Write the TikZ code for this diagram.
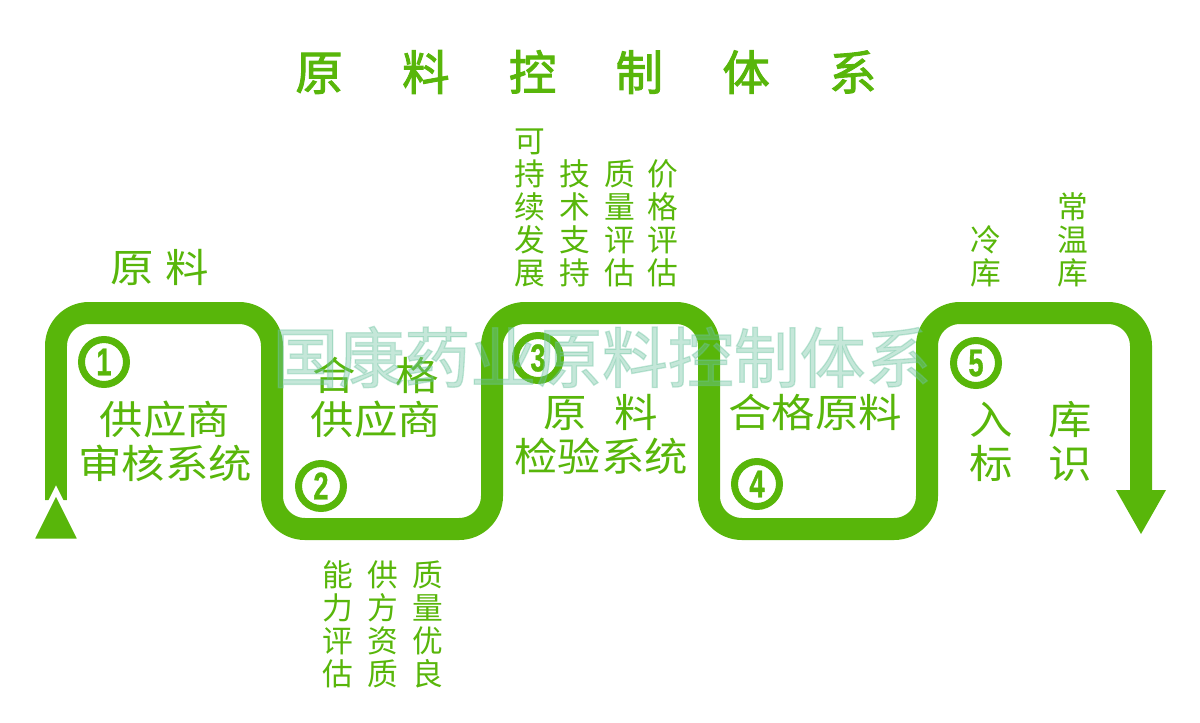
\documentclass[tikz,border=0pt]{standalone}
\usepackage{fontspec}
\newfontfamily\cjk{Noto Sans CJK SC}
\newfontfamily\cjkwide[FakeStretch=1.1]{Noto Sans CJK SC}
\newfontfamily\cjkbold[FakeBold=2]{Noto Sans CJK SC}
\newfontfamily\numfont[FakeStretch=0.7,FakeBold=1]{Liberation Sans}
\definecolor{leaf}{RGB}{88,182,10}
\definecolor{mark}{RGB}{110,195,160}
\begin{document}
\begin{tikzpicture}[x = 0.02cm,
                    y = -0.02cm,
                    color = leaf]
% styles of texts
\tikzset{boxtext/.style={font=\cjkwide\fontsize{22.5}{25}\selectfont,align=center,inner sep=0pt,text=leaf},
         coltext/.style={font=\cjk\fontsize{17.5}{18.7}\selectfont,align=center,inner sep=0pt,anchor=south,text=leaf},
         stepnum/.style={circle,draw=leaf,line width=0.14cm,minimum size=0.9cm,inner sep=0pt,
                         font=\numfont\bfseries\fontsize{22}{22}\selectfont,text=leaf}}
\useasboundingbox (0,0) rectangle (1200,723);
% coordinates
%start
\coordinate (S) at (56,500);
\coordinate (T1) at (31,541);
\coordinate (T2) at (81,541);
\coordinate (T3) at (56,491);
%corners
\coordinate (C1) at (56,313);
\coordinate (C2) at (272,313);
\coordinate (C3) at (272,529);
\coordinate (C4) at (492,529);
\coordinate (C5) at (492,313);
\coordinate (C6) at (709,313);
\coordinate (C7) at (709,529);
\coordinate (C8) at (927,529);
\coordinate (C9) at (927,313);
\coordinate (C10) at (1141,313);
%end
\coordinate (E) at (1141,495);
\coordinate (A1) at (1116,490);
\coordinate (A2) at (1166,490);
\coordinate (A3) at (1141,534);

%title
\node[font=\cjkbold\fontsize{27}{27}\selectfont,text=leaf] (title) at (586,72)
  {原\hspace{1.25em}料\hspace{1.25em}控\hspace{1.25em}制\hspace{1.25em}体\hspace{1.25em}系};

%path
\draw [leaf, line width=0.44cm, rounded corners=0.66cm]
 (S) --
 (C1) --
 (C2) --
 (C3) --
 (C4) --
 (C5) --
 (C6) --
 (C7) --
 (C8) --
 (C9) --
 (C10) --
 (E);
\draw[fill=leaf,draw=white,line width=0.1cm,line join=miter]
 (T1) --
 (T2) --
 (T3) -- cycle;
\fill[leaf]
 (A1) --
 (A2) --
 (A3) -- cycle;

%steps
\node[boxtext] (raw) at (160,267) {原\hspace{0.3em}料};
\node[stepnum] (n1) at (104,362) {1};
\node[boxtext] (s1) at (165,441) {供应商\\审核系统};
\node[stepnum] (n2) at (321,486) {2};
\node[boxtext] (s2) at (376,398) {合\hspace{1em}格\\供应商};
\node[stepnum] (n3) at (538,358) {3};
\node[boxtext] (s3) at (601,434) {原\hspace{0.7em}料\\检验系统};
\node[stepnum] (n4) at (757,484) {4};
\node[boxtext] (s4) at (815,412) {合格原料};
\node[stepnum] (n5) at (976,363) {5};
\node[boxtext] (s5) at (1031,441) {入\hspace{0.9em}库\\标\hspace{0.9em}识};

%columns above
\node[coltext] (c1) at (530,287) {可\\持\\续\\发\\展};
\node[coltext] (c2) at (575,287) {技\\术\\支\\持};
\node[coltext] (c3) at (620,287) {质\\量\\评\\估};
\node[coltext] (c4) at (663,287) {价\\格\\评\\估};
\node[coltext] (k1) at (986,287) {冷\\库};
\node[coltext] (k2) at (1073,287) {常\\温\\库};
%columns below
\node[coltext] (d1) at (338,688) {能\\力\\评\\估};
\node[coltext] (d2) at (383,688) {供\\方\\资\\质};
\node[coltext] (d3) at (428,688) {质\\量\\优\\良};

%watermark
\node[font=\cjkbold\fontsize{37.5}{37.5}\selectfont,text=mark,opacity=0.4] (mark) at (602,357)
  {国康药业原料控制体系};
\end{tikzpicture}
\end{document}
